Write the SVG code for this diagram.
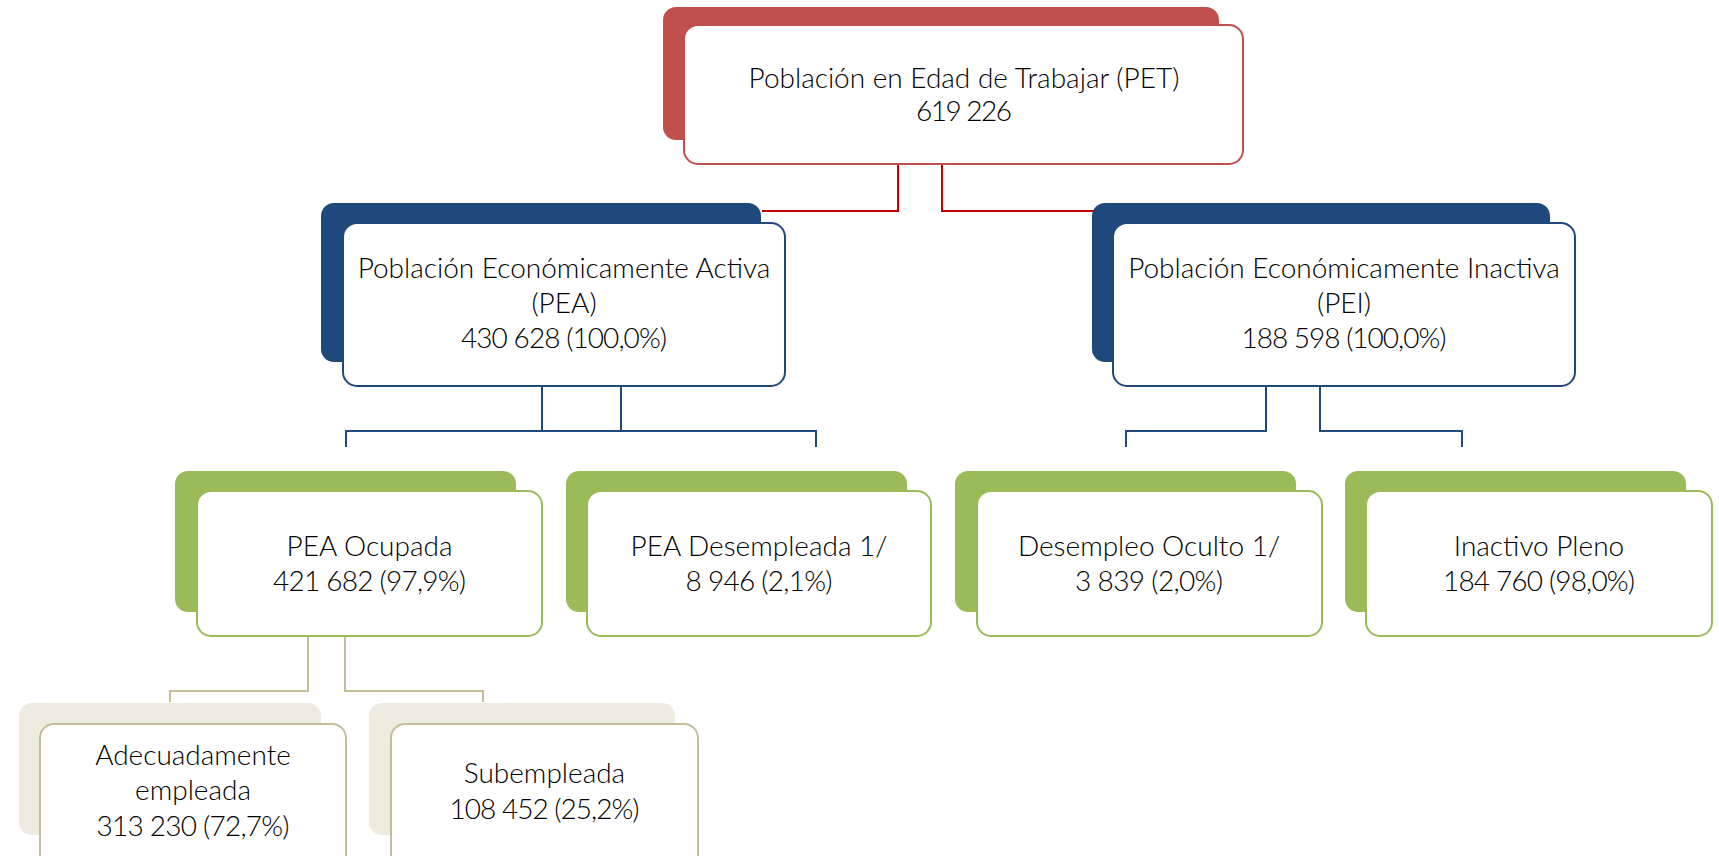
<svg xmlns="http://www.w3.org/2000/svg" width="1719" height="856" viewBox="0 0 1719 856">
<style>
.t{font-family:Lato,"Open Sans","Liberation Sans",sans-serif;font-weight:300;font-size:28px;fill:#000;text-anchor:middle}
.front{fill:#fff;stroke-width:2}
.redB{fill:#C0504D}
.redF{stroke:#C0504D}
.bluB{fill:#1F497D}
.bluF{stroke:#1F497D}
.grnB{fill:#9BBB59}
.grnF{stroke:#9BBB59}
.khkB{fill:#EEECE1}
.khkF{stroke:#C4BD97}
.c{fill:none;stroke-width:2}
</style>
<rect width="1719" height="856" fill="#fff"/>
<g id="connectors">
<path class="c" stroke="#C00000" d="M898,164V211H762M942,164V211H1094"/>
<path class="c" stroke="#1F497D" d="M542,386V431M621,386V431M346,447V431H816V447"/>
<path class="c" stroke="#1F497D" d="M1266,386V431H1126V447M1320,386V431H1462V447"/>
<path class="c" stroke="#C4BD97" d="M308,636V691H170V702M345,636V691H483V702"/>
</g>
<g id="pet">
<rect class="redB" x="663" y="7" width="556" height="133" rx="13"/>
<rect class="front redF" x="684" y="25" width="559" height="139" rx="14"/>
<text class="t" x="964" y="88">Población en Edad de Trabajar (PET)</text>
<text class="t" x="964" y="121" textLength="96">619 226</text>
</g>
<g id="pea">
<rect class="bluB" x="321" y="203" width="440" height="159" rx="13"/>
<rect class="front bluF" x="343" y="223" width="442" height="163" rx="14"/>
<text class="t" x="564" y="278">Población Económicamente Activa</text>
<text class="t" x="564" y="313">(PEA)</text>
<text class="t" x="564" y="348" textLength="206">430 628 (100,0%)</text>
</g>
<g id="pei">
<rect class="bluB" x="1092" y="203" width="458" height="159" rx="13"/>
<rect class="front bluF" x="1113" y="223" width="462" height="163" rx="14"/>
<text class="t" x="1344" y="278">Población Económicamente Inactiva</text>
<text class="t" x="1344" y="313">(PEI)</text>
<text class="t" x="1344" y="348" textLength="205">188 598 (100,0%)</text>
</g>
<g id="pea-ocupada">
<rect class="grnB" x="175" y="471" width="341" height="141" rx="13"/>
<rect class="front grnF" x="197" y="491" width="345" height="145" rx="14"/>
<text class="t" x="369.5" y="556">PEA Ocupada</text>
<text class="t" x="369.5" y="591" textLength="193">421 682 (97,9%)</text>
</g>
<g id="pea-desempleada">
<rect class="grnB" x="566" y="471" width="341" height="141" rx="13"/>
<rect class="front grnF" x="587" y="491" width="344" height="145" rx="14"/>
<text class="t" x="759" y="556">PEA Desempleada 1/</text>
<text class="t" x="759" y="591" textLength="147">8 946 (2,1%)</text>
</g>
<g id="desempleo-oculto">
<rect class="grnB" x="955" y="471" width="341" height="141" rx="13"/>
<rect class="front grnF" x="977" y="491" width="345" height="145" rx="14"/>
<text class="t" x="1149" y="556">Desempleo Oculto 1/</text>
<text class="t" x="1149" y="591" textLength="148">3 839 (2,0%)</text>
</g>
<g id="inactivo-pleno">
<rect class="grnB" x="1345" y="471" width="341" height="141" rx="13"/>
<rect class="front grnF" x="1366" y="491" width="346" height="145" rx="14"/>
<text class="t" x="1539" y="556">Inactivo Pleno</text>
<text class="t" x="1539" y="591" textLength="192">184 760 (98,0%)</text>
</g>
<g id="adecuadamente">
<rect class="khkB" x="19" y="703" width="302" height="132" rx="13"/>
<rect class="front khkF" x="40" y="724" width="306" height="150" rx="14"/>
<text class="t" x="193" y="765">Adecuadamente</text>
<text class="t" x="193" y="800">empleada</text>
<text class="t" x="193" y="836" textLength="193">313 230 (72,7%)</text>
</g>
<g id="subempleada">
<rect class="khkB" x="369" y="703" width="306" height="132" rx="13"/>
<rect class="front khkF" x="391" y="724" width="307" height="150" rx="14"/>
<text class="t" x="544.5" y="783">Subempleada</text>
<text class="t" x="544.5" y="819" textLength="190">108 452 (25,2%)</text>
</g>
</svg>
